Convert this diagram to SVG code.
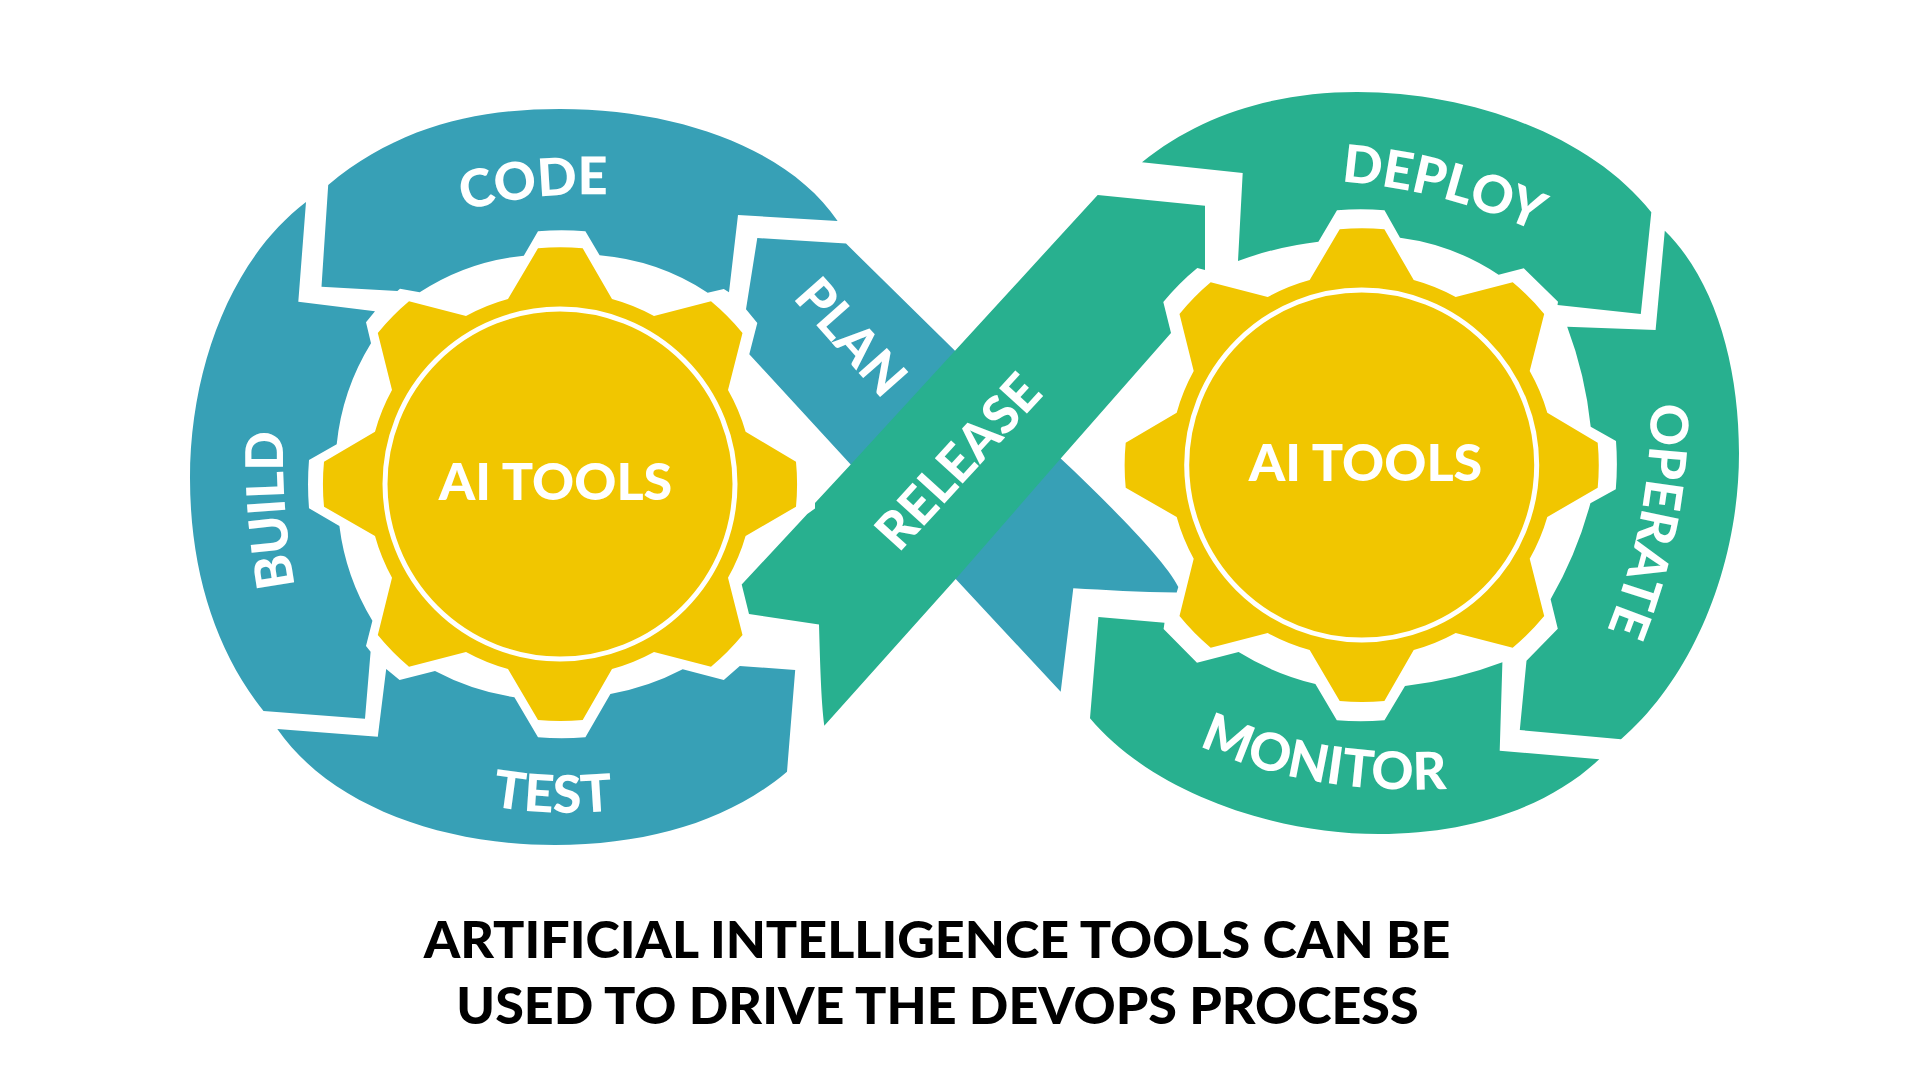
<svg xmlns="http://www.w3.org/2000/svg" xmlns:xlink="http://www.w3.org/1999/xlink" width="1920" height="1080" viewBox="0 0 1920 1080">
<style>
.blue{fill:#37a0b6}
.green{fill:#28b08f}
.gear{fill:#f1c600}
.ring{fill:none;stroke:#fff;stroke-width:5}
text{font-family:"Lato","Open Sans","Liberation Sans",sans-serif;font-weight:900;font-size:52px}
.lbl{fill:#fff;text-anchor:middle}
.title{fill:#000;text-anchor:middle}
.guide{fill:none}
</style>
<defs>
<path id="gearShape" d="M-22,-235.7A237,237 0 0 1 22.7,-235.7L52,-185A192,192 0 0 1 94,-168L151,-182.7A237,237 0 0 1 182.5,-151L168,-94A192,192 0 0 1 185.6,-52.3L236,-22.3A237,237 0 0 1 236,22.7L185.6,52A192,192 0 0 1 168,93.7L182.5,151A237,237 0 0 1 151,182.7L94,168A192,192 0 0 1 52,185L22.7,236A237,237 0 0 1 -22,236L-52,185A192,192 0 0 1 -94,168L-151,182.7A237,237 0 0 1 -182.2,151L-168,93.7A192,192 0 0 1 -185,52L-236,22.7A237,237 0 0 1 -236,-22.3L-185,-52.3A192,192 0 0 1 -168,-94L-182.2,-151A237,237 0 0 1 -151,-182.7L-94,-168A192,192 0 0 1 -52,-185Z"/>
<path id="pCode" class="guide" d="M445,217Q520,190 628,195"/>
<path id="pBuild" class="guide" d="M300,612C285,540 281,480 284,405"/>
<path id="pTest" class="guide" d="M470,802Q550,820 635,808"/>
<path id="pPlan" class="guide" d="M770,273L905,425"/>
<path id="pRelease" class="guide" d="M880,574L1063,374"/>
<path id="pDeploy" class="guide" d="M1315,180C1400,184 1470,200 1560,242"/>
<path id="pOperate" class="guide" d="M1650,365C1655,470 1640,560 1592,665"/>
<path id="pMonitor" class="guide" d="M1165,728C1240,770 1340,800 1485,786"/>
</defs>
<rect width="1920" height="1080" fill="#fff"/>

<g id="plan">
<path class="blue" d="M757.3,238L846,243.6L955,350.7L1060.7,458.6C1110,505 1165,560 1178.3,587L1176.7,592.5C1140,592 1105,590 1073.3,588.2L1060.7,691.8L955.7,579L850.7,464.6L749.3,354.3L757.3,322.9L746,309.3Z"/>
<text class="lbl"><textPath href="#pPlan" xlink:href="#pPlan" startOffset="50%">PLAN</textPath></text>
</g>
<g id="code">
<path class="blue" d="M328.2,185C400,125 480,109 560,109C680,109 790,150 837.6,221L738,215L729,292.3L723.8,289L707.7,292.7A232,232 0 0 0 599.6,255.3L585.4,231.3A300,300 0 0 0 538,231.3L523.8,255.7A232,232 0 0 0 419.7,292.3L400,288.7L397.4,291L321.5,286.7Z"/>
<text class="lbl"><textPath href="#pCode" xlink:href="#pCode" startOffset="50%">CODE</textPath></text>
</g>
<g id="build">
<path class="blue" d="M306,202C230,260 190,370 190,478C190,570 215,650 263.5,711L365,718.7L370.6,651.7L366,646L372.4,620.7A238,238 0 0 1 339.4,526L309,508.3A300,300 0 0 1 309,460L336.7,444.3A238,238 0 0 1 371,343.3L366,322.3L375,311.3L298.3,301.7Z"/>
<text class="lbl"><textPath href="#pBuild" xlink:href="#pBuild" startOffset="50%">BUILD</textPath></text>
</g>
<g id="test">
<path class="blue" d="M277.3,729L377.8,736.7L386.2,669L399.6,680L435,671A250,250 0 0 0 514.4,697.3L538,737.3A300,300 0 0 0 585.4,737.3L610.4,694A250,250 0 0 0 682.7,669.3L723.8,680L739.8,666L795.2,670L787,771.7C730,820 650,845 555,845C440,845 330,805 277.3,729Z"/>
<text class="lbl"><textPath href="#pTest" xlink:href="#pTest" startOffset="50%">TEST</textPath></text>
</g>
<g id="release">
<path class="green" d="M1097.7,195L1205,205.7L1205,270L1197.3,267.9A240,240 0 0 0 1163.3,302L1171,332.9L1060.7,458.6L955.7,579L824.3,725.7C821,700 820,660 819,624.6L749,613.9L741.7,584.6L807.3,513.9L815,508.6L815,503L850.7,464.6L955,350.7Z"/>
<text class="lbl"><textPath href="#pRelease" xlink:href="#pRelease" startOffset="50%">RELEASE</textPath></text>
</g>
<g id="deploy">
<path class="green" d="M1142,162.3C1200,115 1275,92 1357,92C1470,92 1590,135 1651.3,212.3L1640.8,314L1557.5,305L1558,301.7L1523.8,268.3L1498.6,274.7A232,232 0 0 0 1400,237.7L1384.5,210.3A300,300 0 0 0 1337,210.3L1318.4,241.7A350,350 0 0 0 1238,261L1242.7,173Z"/>
<text class="lbl"><textPath href="#pDeploy" xlink:href="#pDeploy" startOffset="50%">DEPLOY</textPath></text>
</g>
<g id="operate">
<path class="green" d="M1664.8,230.7C1715,280 1739,365 1739,453C1739,570 1690,680 1621,739.3L1519.8,730L1526.5,660.7L1557.8,628.7L1550.6,599.3A400,400 0 0 0 1590.4,503.3L1615.8,489.3A300,300 0 0 0 1616,441L1590.7,426.7A400,400 0 0 0 1567.2,326.7L1655.6,330Z"/>
<text class="lbl"><textPath href="#pOperate" xlink:href="#pOperate" startOffset="50%">OPERATE</textPath></text>
</g>
<g id="monitor">
<path class="green" d="M1098.4,617L1164.5,622.7L1163.6,629L1197,662.7L1238.6,652A260,260 0 0 0 1315.4,684L1336.8,720.3A300,300 0 0 0 1384.5,720.3L1405,686A400,400 0 0 0 1502.4,662.3L1499.7,750.7L1599.3,759.3C1545,810 1465,834 1379,834C1270,834 1150,790 1090,718.3Z"/>
<text class="lbl"><textPath href="#pMonitor" xlink:href="#pMonitor" startOffset="50%">MONITOR</textPath></text>
</g>

<g id="gear-left">
<use href="#gearShape" xlink:href="#gearShape" class="gear" x="560" y="484"/>
<circle class="ring" cx="560" cy="484" r="175"/>
<text class="lbl" x="555.5" y="500">AI TOOLS</text>
</g>
<g id="gear-right">
<use href="#gearShape" xlink:href="#gearShape" class="gear" x="1361.7" y="465"/>
<circle class="ring" cx="1361.7" cy="465" r="175"/>
<text class="lbl" x="1365.5" y="481">AI TOOLS</text>
</g>
<g id="caption">
<text class="title" x="937" y="958">ARTIFICIAL INTELLIGENCE TOOLS CAN BE</text>
<text class="title" x="937.5" y="1024">USED TO DRIVE THE DEVOPS PROCESS</text>
</g>
</svg>
